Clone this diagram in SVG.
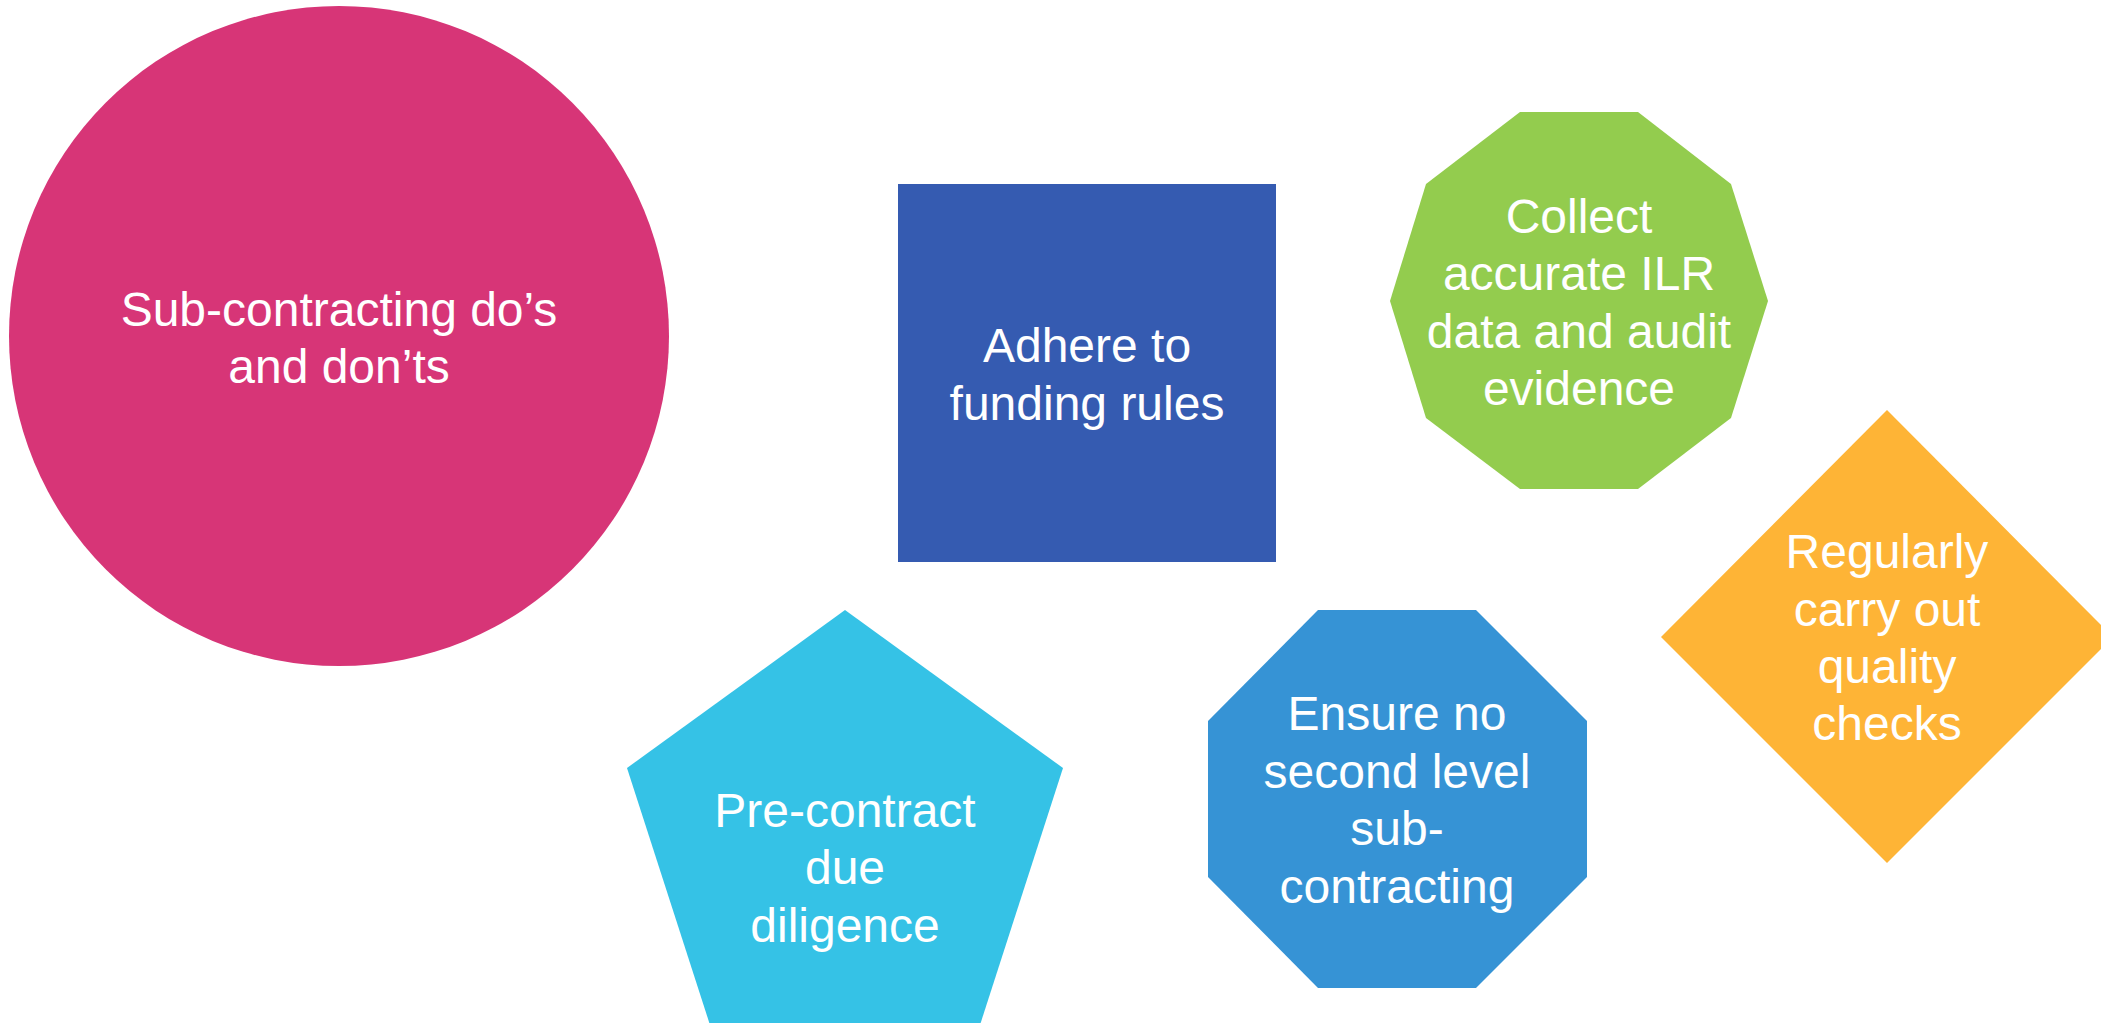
<svg xmlns="http://www.w3.org/2000/svg" width="2101" height="1023" viewBox="0 0 2101 1023">
<style>
.t{font-family:"Liberation Sans",Arial,sans-serif;font-size:48px;fill:#ffffff;text-anchor:middle}
</style>
<rect width="2101" height="1023" fill="#ffffff"/>
<g id="connectors"></g>
<g id="node-circle">
<circle cx="339" cy="336" r="330" fill="#D73577"/>
<text class="t" x="339" y="326">Sub-contracting do’s</text>
<text class="t" x="339" y="383">and don’ts</text>
</g>
<g id="node-square">
<rect x="898" y="184" width="378" height="378" fill="#355BB1"/>
<text class="t" x="1087" y="362">Adhere to</text>
<text class="t" x="1087" y="420">funding rules</text>
</g>
<g id="node-decagon">
<polygon points="1520,112 1638,112 1731,184 1768,301 1731,418 1638,489 1520,489 1426,418 1390,301 1426,184" fill="#93CC4E"/>
<text class="t" x="1579" y="233">Collect</text>
<text class="t" x="1579" y="290">accurate ILR</text>
<text class="t" x="1579" y="348">data and audit</text>
<text class="t" x="1579" y="405">evidence</text>
</g>
<g id="node-diamond">
<polygon points="1887,410 2113,637 1887,863 1661,637" fill="#FEB436"/>
<text class="t" x="1887" y="568">Regularly</text>
<text class="t" x="1887" y="626">carry out</text>
<text class="t" x="1887" y="683">quality</text>
<text class="t" x="1887" y="740">checks</text>
</g>
<g id="node-pentagon">
<polygon points="845,610 1063,768 980,1025 710,1025 627,768" fill="#35C2E6"/>
<text class="t" x="845" y="827">Pre-contract</text>
<text class="t" x="845" y="884">due</text>
<text class="t" x="845" y="942">diligence</text>
</g>
<g id="node-octagon">
<polygon points="1318,610 1476,610 1587,721 1587,877 1476,988 1318,988 1208,877 1208,721" fill="#3693D5"/>
<text class="t" x="1397" y="730">Ensure no</text>
<text class="t" x="1397" y="788">second level</text>
<text class="t" x="1397" y="845">sub-</text>
<text class="t" x="1397" y="903">contracting</text>
</g>
</svg>
